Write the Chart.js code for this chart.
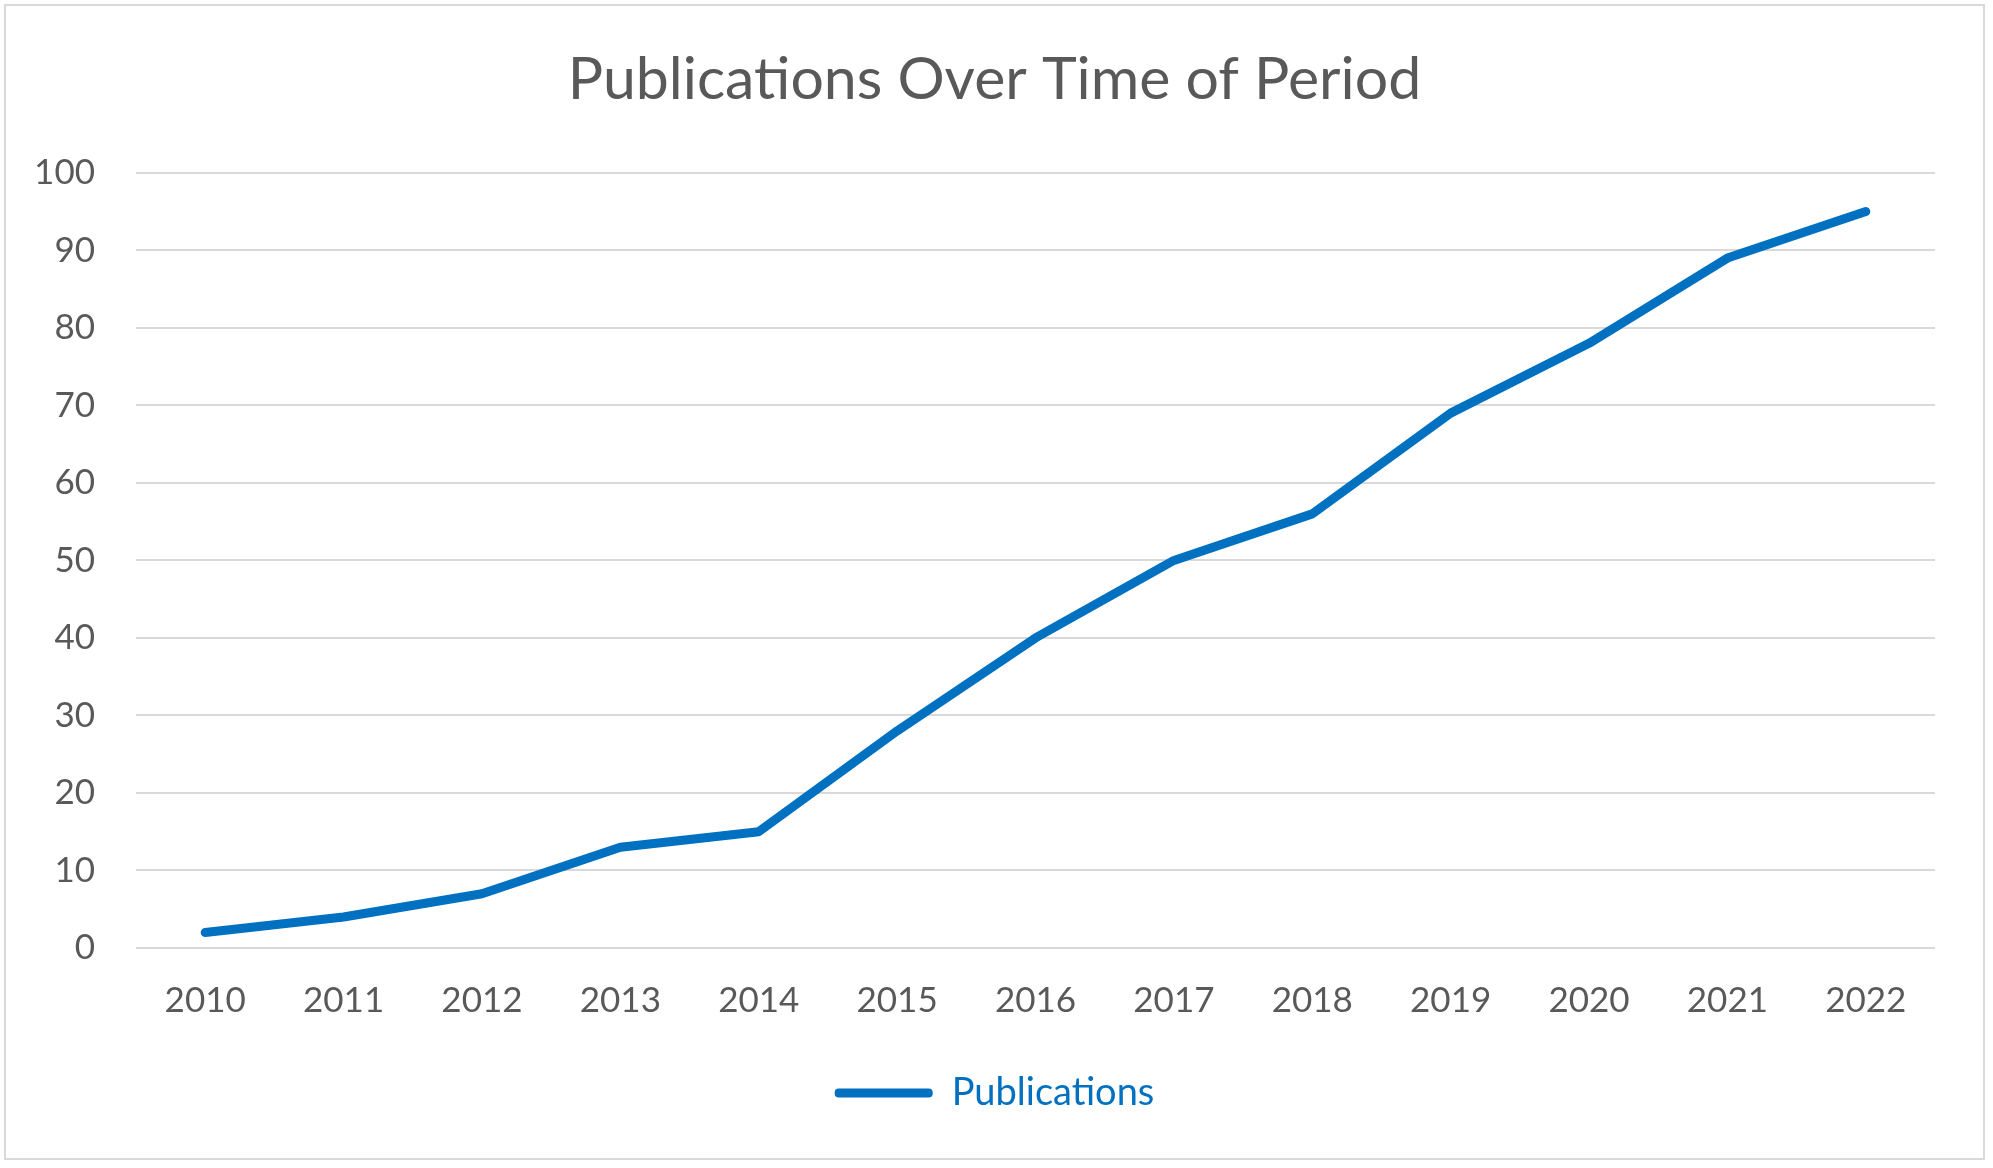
<!DOCTYPE html>
<html>
<head>
<meta charset="utf-8">
<script src="https://cdn.jsdelivr.net/npm/chart.js@4.4.1/dist/chart.umd.min.js"></script>
<style>
  html, body { margin: 0; padding: 0; background: #fff; }
  .frame {
    position: absolute;
    left: 4px; top: 4px;
    width: 1981px; height: 1156px;
    border: 2px solid #d9d9d9;
    box-sizing: border-box;
  }
  canvas { display: block; }
</style>
</head>
<body>
<div class="frame">
  <canvas id="chart"></canvas>
</div>
<script>
// Publications per year
const years = ["2010", "2011", "2012", "2013", "2014", "2015", "2016", "2017", "2018", "2019", "2020", "2021", "2022"];
const publications = [2, 4, 7, 13, 15, 28, 40, 50, 56, 69, 78, 89, 95];
const yTicks = [0, 10, 20, 30, 40, 50, 60, 70, 80, 90, 100];

const blue = "#0070C0";
const textGrey = "#595959";
const gridGrey = "#d9d9d9";
const fontFamily = "Lato, 'Open Sans', sans-serif";

const ctx = document.getElementById("chart").getContext("2d");
new Chart(ctx, {
  type: "line",
  data: {
    labels: years,
    datasets: [
      {
        label: "Publications",
        data: publications,
        borderColor: blue,
        backgroundColor: blue,
        borderWidth: 9,
        borderCapStyle: "round",
        borderJoinStyle: "round",
        tension: 0,
        pointRadius: 0,
        fill: false,
      },
    ],
  },
  options: {
    responsive: true,
    maintainAspectRatio: false,
    animation: false,
    layout: {
      padding: { top: 39, left: 0, right: 0, bottom: 36 },
    },
    plugins: {
      title: {
        display: true,
        text: "Publications Over Time of Period",
        color: textGrey,
        font: { family: fontFamily, size: 59, weight: "normal" },
        padding: { top: 0, bottom: 57 },
      },
      legend: {
        display: true,
        position: "bottom",
        labels: {
          color: blue,
          font: { family: fontFamily, size: 38 },
          boxWidth: 98,
          boxHeight: 9,
          padding: 52,
          useBorderRadius: true,
          borderRadius: 4,
          generateLabels: (chart) =>
            Chart.defaults.plugins.legend.labels
              .generateLabels(chart)
              .map((item) => ({ ...item, lineWidth: 0 })),
        },
      },
      tooltip: { enabled: false },
    },
    scales: {
      x: {
        offset: true,
        grid: { display: false, drawTicks: false },
        border: { display: false },
        ticks: {
          color: textGrey,
          font: { family: fontFamily, size: 35 },
          padding: 32,
          maxRotation: 0,
        },
        afterFit: (axis) => {
          axis.height = 74;
        },
      },
      y: {
        min: 0,
        max: 100,
        afterBuildTicks: (axis) => {
          axis.ticks = yTicks.map((v) => ({ value: v }));
        },
        grid: { color: gridGrey, lineWidth: 2, drawTicks: false },
        border: { display: false },
        ticks: {
          color: textGrey,
          font: { family: fontFamily, size: 35 },
          padding: 41,
        },
        afterFit: (axis) => {
          axis.width = 130;
        },
      },
      // empty right-hand spacer so the plot ends short of the frame
      spacer: {
        type: "linear",
        position: "right",
        grid: { display: false, drawTicks: false },
        border: { display: false },
        ticks: { display: false },
        afterFit: (axis) => {
          axis.width = 48;
        },
      },
    },
  },
});
</script>
</body>
</html>
